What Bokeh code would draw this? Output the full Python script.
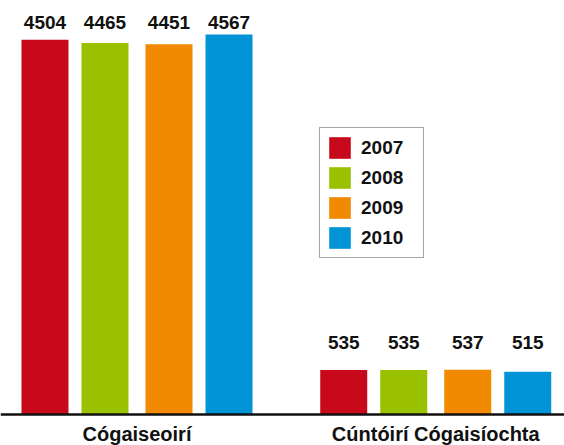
from bokeh.plotting import figure
from bokeh.models import ColumnDataSource, Range1d, Span, Legend, LegendItem
from bokeh.transform import dodge
from bokeh.core.properties import value
from bokeh.embed import file_html
from bokeh.resources import INLINE

# ---- data ----
groups = ["Cógaiseoirí", "Cúntóirí Cógaisíochta"]
years = ["2007", "2008", "2009", "2010"]
v2007 = [4504, 535]
v2008 = [4465, 535]
v2009 = [4451, 537]
v2010 = [4567, 515]
colors = ["#C8091B", "#9AC100", "#F18A00", "#0093D5"]

series = [v2007, v2008, v2009, v2010]
data = dict(group=groups, gx=list(range(len(groups))),
            top=[max(vals) for vals in zip(*series)], base=[0] * len(groups),
            yoff=[-12, -27])
for yr, vals in zip(years, series):
    data["y" + yr] = vals
    data["t" + yr] = [str(v) for v in vals]
src = ColumnDataSource(data)

FONT = value("Liberation Sans")

p = figure(width=564, height=445,
           x_range=Range1d(-0.4569, 1.4310),
           y_range=Range1d(-372.6, 4975.4),
           output_backend="svg", toolbar_location=None,
           x_axis_location=None, y_axis_location=None,
           min_border=0, outline_line_color=None)
p.grid.visible = False
p.background_fill_color = "white"

offsets = [-0.308, -0.1071, 0.1071, 0.308]
bar_w = 0.1573
items = []
for yr, off, col in zip(years, offsets, colors):
    r = p.vbar(x=dodge("gx", off), top="y" + yr, bottom=0,
               width=bar_w, source=src, fill_color=col, line_color=None)
    items.append(LegendItem(label=yr, renderers=[r]))
    p.text(x=dodge("gx", off), y="top", text="t" + yr, source=src,
           text_align="center", text_baseline="alphabetic", y_offset="yoff",
           text_font=FONT, text_font_style="bold", text_font_size="19px",
           text_color="#111111")

# category labels
p.text(x="gx", y="base", text="group", source=src, text_align="center",
       text_baseline="alphabetic", y_offset=20, text_font=FONT,
       text_font_style="bold", text_font_size="20px", text_color="#111111")

# baseline axis line
p.add_layout(Span(location=0, dimension="width", line_color="#111111", line_width=2.5))

legend = Legend(items=items, location=(319, 187), orientation="vertical",
                glyph_width=27, glyph_height=27, spacing=3, padding=6, margin=0,
                label_standoff=8, label_width=56,
                label_text_font="Liberation Sans", label_text_font_style="bold",
                label_text_font_size="19px", label_text_color="#111111",
                border_line_color="#4d4d4d", border_line_width=1.5,
                background_fill_color="white", background_fill_alpha=1.0)
p.add_layout(legend, "center")

open("out.html", "w").write(file_html(p, INLINE))
